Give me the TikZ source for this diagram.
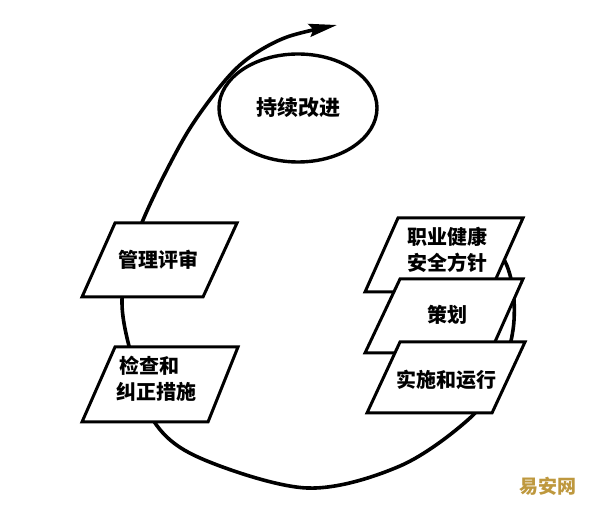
\documentclass[tikz,border=0pt]{standalone}
\usepackage{fontspec}
\newfontfamily\cjk{Noto Sans CJK SC}
\usetikzlibrary{shapes.geometric,arrows.meta}
\definecolor{wmcol}{RGB}{190,152,62}
\tikzset{
  boxshape/.style={draw, line width=3pt, fill=white, line join=miter},
  lbl/.style={font=\cjk\bfseries\fontsize{20}{26}\selectfont, align=center, inner sep=0pt},
  loopline/.style={line width=3.6pt, line cap=round},
}
\begin{document}
\begin{tikzpicture}[x=1pt,y=-1pt]
\useasboundingbox (0,0) rectangle (600,518);
% spiral loop
\draw[loopline, -{Stealth[length=28pt,width=13pt,inset=4pt]}]
  plot[smooth, tension=0.55] coordinates {
   (478,236) (503,258) (513,290) (513,330) (500,375) (470,418)
   (400,466) (307,488) (200,458) (153,420) (130,350) (122,300)
   (132,250) (152,200) (187,133) (223,83) (250,57) (287,37) (337,25)};
% ellipse
\node[draw, line width=3.4pt, ellipse, minimum width=158pt, minimum height=108pt, inner sep=0pt,
      font=\cjk\bfseries\fontsize{21}{26}\selectfont] (ci) at (298,108) {持续改进};
% left boxes
\draw[boxshape] (115,223) -- (237,223) -- (203,297) -- (82,297) -- cycle;
\node[lbl] (mr) at (158,260) {管理评审};
\draw[boxshape] (115,347) -- (238,347) -- (208,422) -- (82,422) -- cycle;
\node[lbl, align=left, anchor=west] (cc) at (116,379) {\,检查和\\纠正措施};
% right boxes
\draw[boxshape] (398,218) -- (523,218) -- (490,292) -- (365,292) -- cycle;
\node[lbl] (po) at (447,250) {职业健康\\安全方针};
\draw[boxshape] (400,279) -- (523,279) -- (490,353) -- (365,353) -- cycle;
\node[lbl] (pl) at (447,315) {策划};
\draw[boxshape] (400,342) -- (525,342) -- (492,413) -- (367,413) -- cycle;
\node[lbl] (im) at (446,380) {实施和运行};
% watermark
\node[text=wmcol, font=\cjk\bfseries\fontsize{19}{19}\selectfont, inner sep=0pt] (wm) at (548,486) {易安网};
\end{tikzpicture}
\end{document}
